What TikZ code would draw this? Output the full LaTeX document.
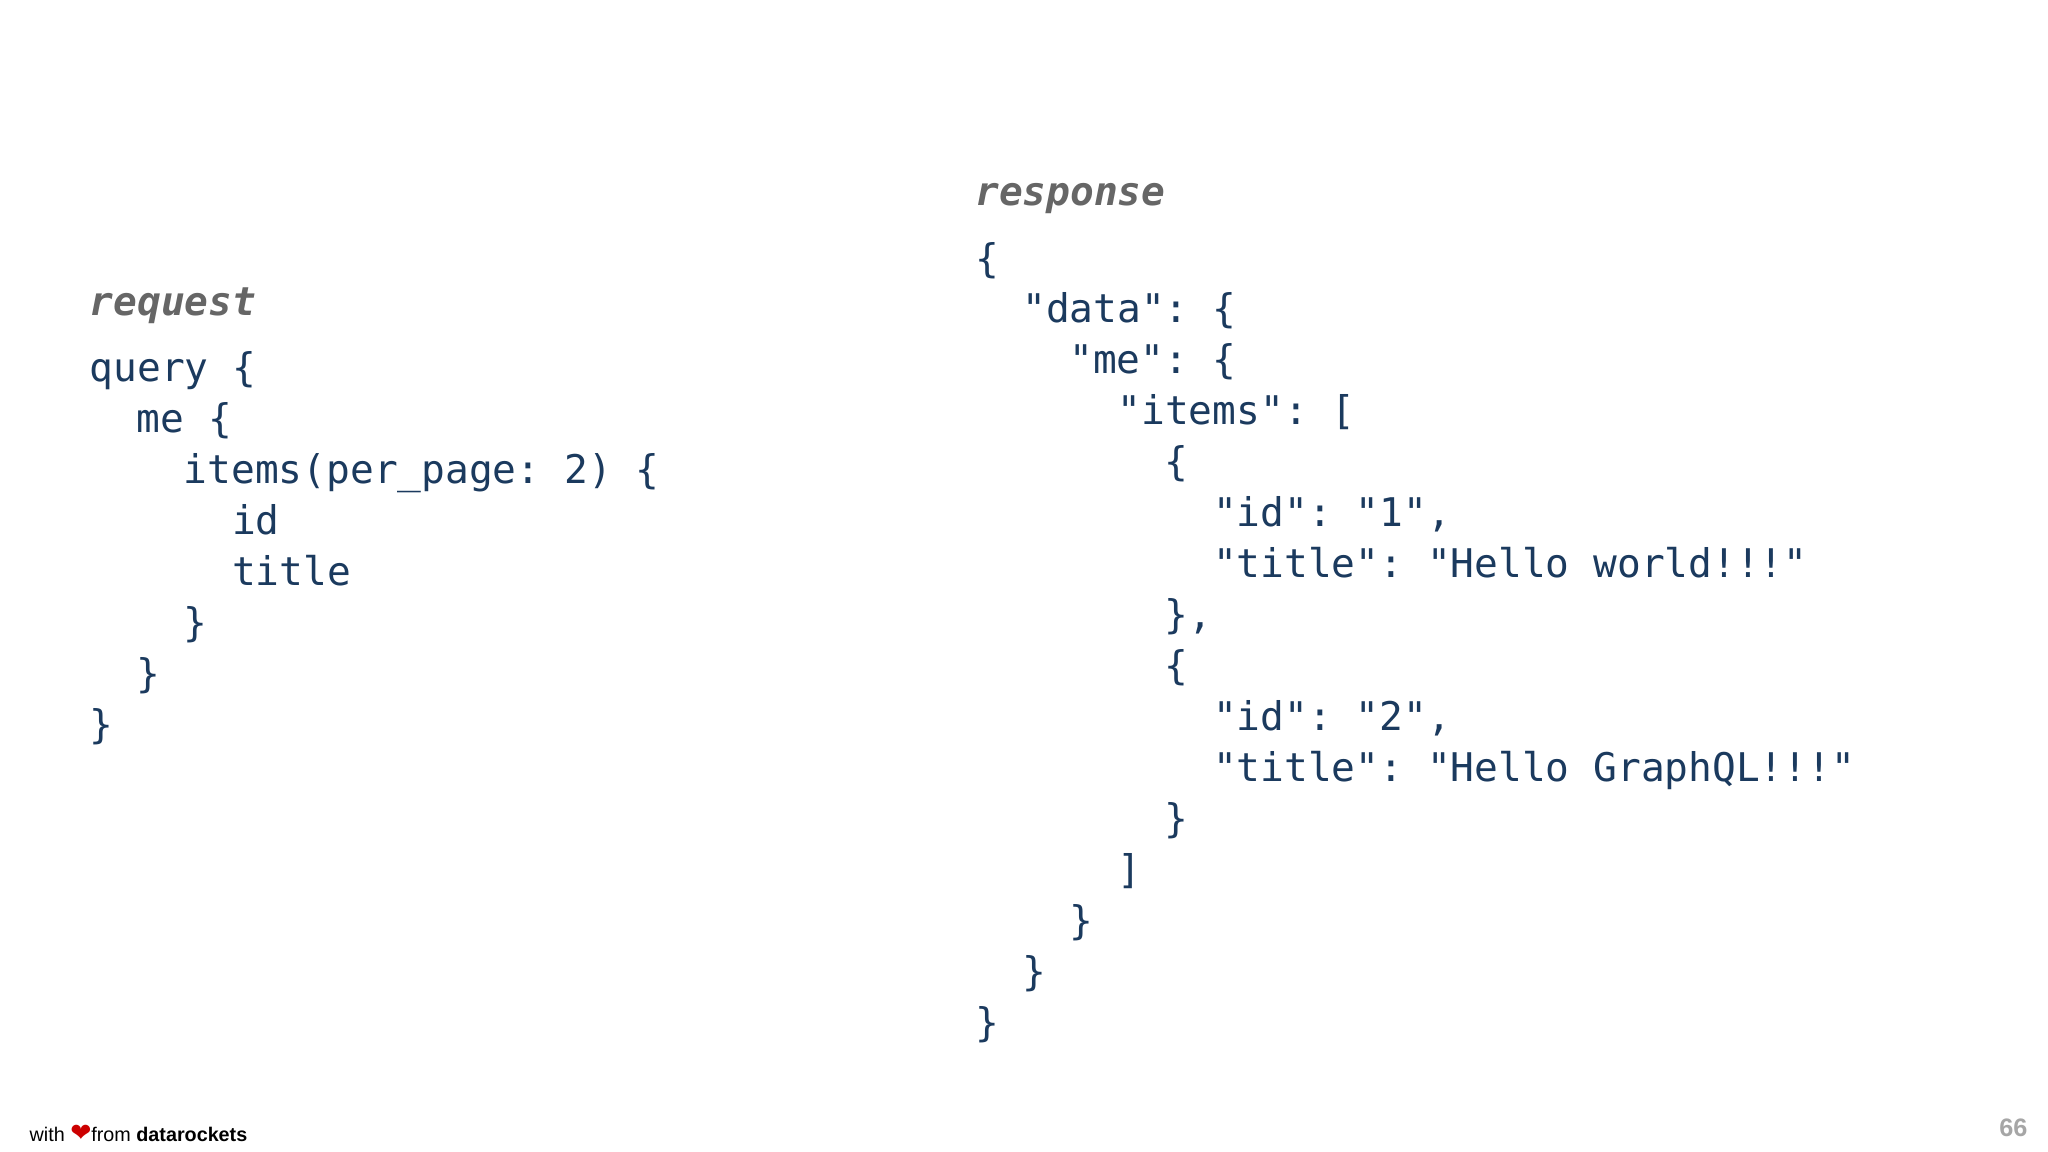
\documentclass[tikz,border=0pt]{standalone}
\usepackage{fontspec}
\setmainfont{Liberation Sans}
\setmonofont{DejaVu Sans Mono}
\newfontfamily\symfont{DejaVu Sans}
\definecolor{codecol}{HTML}{1B3A5E}
\definecolor{labcol}{HTML}{666666}
\begin{document}
\begin{tikzpicture}[x=0.01cm,y=-0.01cm,
  code/.style={anchor=mid west,inner sep=0,text=codecol,font=\ttfamily\fontsize{8.6pt}{10pt}\selectfont},
  lab/.style={anchor=mid west,inner sep=0,text=labcol,font=\ttfamily\bfseries\itshape\fontsize{8.6pt}{10pt}\selectfont}]
\fill[white] (0,0) rectangle (1568,882);
\useasboundingbox (0,0) rectangle (1568,882);
\node[lab] (rq) at (68,232) {request};
\node[code] (q1) at (68,283) {query \{};
\node[code] (q2) at (104,322) {me \{};
\node[code] (q3) at (140,361) {items(per\_page: 2) \{};
\node[code] (q4) at (177,400) {id};
\node[code] (q5) at (177,439) {title};
\node[code] (q6) at (140,478) {\}};
\node[code] (q7) at (104,517) {\}};
\node[code] (q8) at (68,556) {\}};
\node[lab] (rs) at (746,148) {response};
\node[code] (r1) at (746,199) {\{};
\node[code] (r2) at (782,238) {"data": \{};
\node[code] (r3) at (818,277) {"me": \{};
\node[code] (r4) at (855,316) {"items": [};
\node[code] (r5) at (891,355) {\{};
\node[code] (r6) at (928,394) {"id": "1",};
\node[code] (r7) at (928,433) {"title": "Hello world!!!"};
\node[code] (r8) at (891,472) {\},};
\node[code] (r9) at (891,511) {\{};
\node[code] (r10) at (928,550) {"id": "2",};
\node[code] (r11) at (928,589) {"title": "Hello GraphQL!!!"};
\node[code] (r12) at (891,628) {\}};
\node[code] (r13) at (855,667) {]};
\node[code] (r14) at (818,706) {\}};
\node[code] (r15) at (782,745) {\}};
\node[code] (r16) at (746,784) {\}};
\node[anchor=mid west,inner sep=0,font=\fontsize{4.3pt}{5pt}\selectfont] (ft) at (22,865)
  {with {\symfont\color{red!80!black}\fontsize{5.5pt}{6pt}\selectfont ❤}from \textbf{datarockets}};
\node[anchor=mid east,inner sep=0,text=gray!70,font=\bfseries\fontsize{5.5pt}{6pt}\selectfont] (pg) at (1553,861) {66};
\end{tikzpicture}
\end{document}
